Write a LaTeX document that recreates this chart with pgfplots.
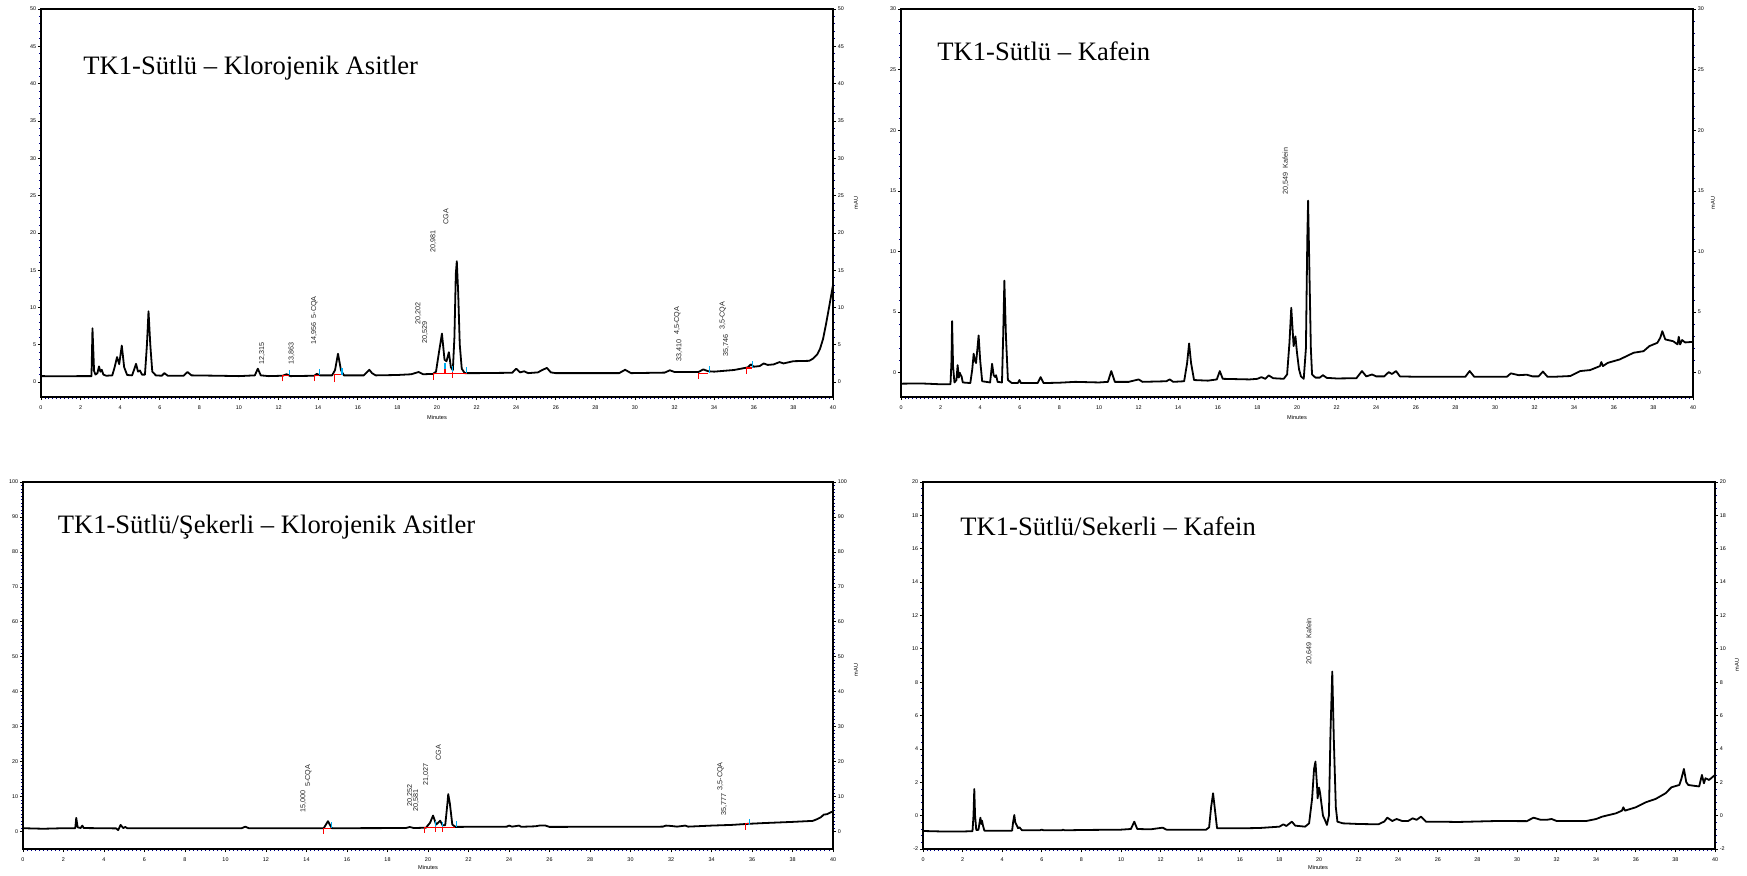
\documentclass[border=0pt]{standalone}
\usepackage{pgfplots}
\pgfplotsset{compat=1.18}
\usepackage{fontspec}
\setmainfont{Liberation Serif}
\newfontfamily\arial{Liberation Sans}
\newcommand\tickfont{\arial\fontsize{2.7}{3}\selectfont}
\newcommand\titlefont{\fontsize{13.3}{15}\selectfont}
\pgfplotsset{
 chrom/.style={scale only axis, anchor=south west, xmin=0, xmax=40, xtick={0,2,...,40},
   minor x tick num=9, tick align=outside, xtick pos=left, ytick pos=left,
   major tick length=1.6pt, minor tick length=1.1pt,
   tick style={black, line width=0.35pt}, minor tick style={blue!55!black, line width=0.45pt},
   ticklabel style={font=\tickfont, inner sep=0.6pt}, xticklabel style={yshift=-1.8pt},
   /pgf/number format/assume math mode=true,
   axis line style={line width=0.55pt}},
 rightax/.style={scale only axis, anchor=south west, xmin=0, xmax=40, hide x axis,
   axis y line*=right, tick align=outside, major tick length=1.6pt, minor tick length=1.1pt,
   tick style={black, line width=0.35pt}, minor tick style={blue!55!black, line width=0.45pt},
   ticklabel style={font=\tickfont, inner sep=0.6pt},
   /pgf/number format/assume math mode=true,
   axis line style={line width=0.55pt}},
 trace/.style={black, line width=0.9pt, line join=round}
}
\tikzset{pk/.style={rotate=90, anchor=west, inner sep=0pt, font=\arial\fontsize{3.6}{4}\selectfont, text=black!85},
 lab/.style={font=\arial\fontsize{2.8}{3}\selectfont, inner sep=0pt},
 red mark/.style={red, line width=0.6pt},
 cyan mark/.style={cyan, line width=0.6pt}}
\begin{document}
\begin{tikzpicture}
\useasboundingbox (0,0) rectangle (873.5pt,-437.5pt);
% ---------------- Panel 1 ----------------
\begin{axis}[chrom, at={(20.5pt,-198.5pt)}, width=396pt, height=194pt,
  ymin=-2, ymax=50, ytick={0,5,...,50}, minor y tick num=4]
\addplot[trace] coordinates {
(0,0.8) (1,0.78) (2,0.8) (2.55,0.8) (2.6,7.2) (2.68,1.5) (2.75,1.0) (2.85,1.2) (2.93,2.1) (3.0,1.4)
(3.07,1.65) (3.15,1.0) (3.3,0.85) (3.6,0.9) (3.72,2.0) (3.84,3.35) (3.95,2.4) (4.08,4.9) (4.2,2.0)
(4.35,0.95) (4.6,0.9) (4.72,1.8) (4.8,2.45) (4.9,1.4) (5.0,1.55) (5.1,1.0) (5.25,1.0) (5.35,5.0)
(5.43,9.5) (5.52,5.0) (5.62,1.4) (5.8,0.9) (6.1,0.85) (6.23,1.2) (6.4,0.85) (7.2,0.85) (7.4,1.35)
(7.6,0.9) (9,0.85) (10,0.8) (10.8,0.9) (10.95,1.8) (11.1,0.9) (11.5,0.8) (12.2,0.85) (12.4,1.05)
(12.6,0.8) (13.8,0.85) (13.93,1.1) (14.1,0.9) (14.7,0.9) (14.85,1.6) (15.0,3.8) (15.15,1.6)
(15.3,0.9) (16.3,0.9) (16.45,1.3) (16.58,1.65) (16.72,1.2) (16.9,0.9) (18,0.95) (18.7,1.05)
(19.07,1.35) (19.3,1.05) (19.8,1.1) (19.95,1.4) (20.1,4.0) (20.25,6.5) (20.38,3.0) (20.48,2.8)
(20.6,4.0) (20.7,2.0) (20.8,1.6) (20.88,6.0) (20.95,14.5) (21.0,16.2) (21.07,12.0) (21.15,5.0)
(21.25,1.8) (21.4,1.2) (22,1.2) (23.8,1.25) (24.0,1.8) (24.2,1.3) (24.4,1.45) (24.6,1.2) (25.1,1.3)
(25.3,1.6) (25.55,1.9) (25.75,1.3) (26,1.2) (29.2,1.2) (29.5,1.65) (29.8,1.2) (31.5,1.27)
(31.76,1.58) (32.0,1.35) (33.2,1.35) (33.45,1.7) (33.7,1.45) (34.0,1.4) (35.0,1.62) (35.7,1.97)
(35.85,2.37) (36.0,2.06) (36.3,2.15) (36.5,2.5) (36.7,2.3) (37.0,2.37) (37.3,2.68) (37.5,2.5)
(38.0,2.8) (38.8,2.85) (39.0,3.16) (39.2,3.7) (39.35,4.5) (39.5,5.8) (39.65,7.8) (39.8,10.0) (40.0,13.0)};
\addplot[red mark] coordinates {(12.2,0.1) (12.2,0.9) (12.55,0.9)};
\addplot[cyan mark] coordinates {(12.55,0.9) (12.55,1.65)};
\addplot[red mark] coordinates {(13.8,0.1) (13.8,0.9) (14.05,0.9)};
\addplot[cyan mark] coordinates {(14.05,0.9) (14.05,1.75)};
\addplot[red mark] coordinates {(14.83,0.0) (14.83,1.0) (15.2,1.0)};
\addplot[cyan mark] coordinates {(15.2,1.0) (15.2,1.85)};
\addplot[red mark] coordinates {(19.81,0.3) (19.81,1.2) (21.5,1.2)};
\addplot[red mark] coordinates {(20.4,1.2) (20.4,2.0)};
\addplot[red mark] coordinates {(20.77,1.3) (20.77,0.6)};
\addplot[cyan mark] coordinates {(20.4,1.8) (20.4,2.5)};
\addplot[cyan mark] coordinates {(20.77,1.4) (20.77,2.1)};
\addplot[cyan mark] coordinates {(21.5,1.2) (21.5,2.0)};
\addplot[red mark] coordinates {(33.2,0.45) (33.2,1.2) (33.7,1.2)};
\addplot[cyan mark] coordinates {(33.75,1.2) (33.75,2.2)};
\addplot[red mark] coordinates {(35.64,1.1) (35.64,1.9) (35.9,1.9)};
\addplot[cyan mark] coordinates {(35.95,1.9) (35.95,2.8)};
\node[pk] at (axis cs:11.16,2.3) {12,315};
\node[pk] at (axis cs:12.66,2.3) {13,863};
\node[pk] at (axis cs:13.8,5.0) {14,956\ \ 5-CQA};
\node[pk] at (axis cs:19.06,7.65) {20,202};
\node[pk] at (axis cs:19.4,5.06) {20,529};
\node[pk] at (axis cs:19.81,17.26) {20,981};
\node[pk] at (axis cs:20.45,21.05) {CGA};
\node[pk] at (axis cs:32.24,2.73) {33,410};
\node[pk] at (axis cs:32.14,6.31) {4,5-CQA};
\node[pk] at (axis cs:34.6,3.4) {35,746};
\node[pk] at (axis cs:34.43,6.98) {3,5-CQA};
\end{axis}
\begin{axis}[rightax, at={(20.5pt,-198.5pt)}, width=396pt, height=194pt,
  ymin=-2, ymax=50, ytick={0,5,...,50}, minor y tick num=4]
\addplot[draw=none] coordinates {(0,0)};
\end{axis}
% ---------------- Panel 2 ----------------
\begin{axis}[chrom, at={(450.5pt,-198.5pt)}, width=396pt, height=194pt,
  ymin=-2, ymax=30, ytick={0,5,...,30}, minor y tick num=4]
\addplot[trace] coordinates {
(0,-0.9) (1,-0.88) (2,-0.95) (2.5,-0.95) (2.55,1.0) (2.58,4.26) (2.63,0.5) (2.7,-0.8) (2.8,-0.6)
(2.86,0.63) (2.92,-0.4) (2.97,0.0) (3.0,-0.15) (3.06,-0.3) (3.12,-0.8) (3.5,-0.85) (3.6,0.3)
(3.67,1.57) (3.73,1.0) (3.79,0.8) (3.86,2.0) (3.92,3.08) (4.0,1.0) (4.1,-0.7) (4.5,-0.8) (4.6,0.74)
(4.68,-0.2) (4.75,-0.35) (4.8,-0.2) (4.88,-0.75) (5.1,-0.8) (5.16,3.0) (5.22,7.6) (5.3,3.0)
(5.4,-0.6) (5.6,-0.85) (5.9,-0.85) (5.98,-0.6) (6.06,-0.85) (6.9,-0.85) (7.05,-0.36) (7.2,-0.85)
(8,-0.82) (8.8,-0.75) (10,-0.8) (10.45,-0.75) (10.62,0.14) (10.8,-0.75) (11.5,-0.75) (12.0,-0.55)
(12.2,-0.75) (13.4,-0.7) (13.57,-0.55) (13.75,-0.75) (14.3,-0.7) (14.45,0.8) (14.55,2.42)
(14.65,0.8) (14.8,-0.6) (15.5,-0.65) (15.95,-0.55) (16.1,0.14) (16.25,-0.5) (17.6,-0.55) (18.0,-0.5)
(18.2,-0.36) (18.4,-0.5) (18.57,-0.22) (18.8,-0.45) (19.33,-0.5) (19.5,-0.14) (19.62,2.5)
(19.71,5.36) (19.78,3.5) (19.83,2.2) (19.92,3.0) (20.0,1.65) (20.1,0.3) (20.2,-0.3) (20.34,-0.5)
(20.45,2.0) (20.52,11.0) (20.56,14.2) (20.62,9.0) (20.7,2.0) (20.76,-0.14) (20.93,-0.4)
(21.15,-0.4) (21.31,-0.2) (21.5,-0.42) (22.0,-0.47) (23.0,-0.45) (23.28,0.14) (23.5,-0.3)
(23.79,-0.14) (24.0,-0.3) (24.4,-0.3) (24.63,0.05) (24.8,-0.1) (25.0,0.14) (25.2,-0.3) (26,-0.33)
(28.5,-0.33) (28.72,0.14) (28.95,-0.33) (30.6,-0.33) (30.8,-0.05) (31.2,-0.2) (31.6,-0.16)
(31.9,-0.3) (32.2,-0.3) (32.42,0.1) (32.65,-0.33) (33.0,-0.33) (33.8,-0.27) (34.3,0.14) (34.8,0.22)
(35.3,0.55) (35.37,0.88) (35.45,0.55) (35.7,0.82) (36.3,1.1) (37.0,1.65) (37.5,1.78) (37.8,2.2)
(38.2,2.47) (38.35,2.9) (38.45,3.43) (38.6,2.75) (39.0,2.6) (39.22,2.34) (39.28,2.97) (39.35,2.34)
(39.45,2.7) (39.6,2.5) (40,2.55)};
\node[pk] at (axis cs:19.43,14.7) {20,549\ \ Kafein};
\end{axis}
\begin{axis}[rightax, at={(450.5pt,-198.5pt)}, width=396pt, height=194pt,
  ymin=-2, ymax=30, ytick={0,5,...,30}, minor y tick num=4]
\addplot[draw=none] coordinates {(0,0)};
\end{axis}
% ---------------- Panel 3 ----------------
\begin{axis}[chrom, at={(11.5pt,-424.5pt)}, width=405pt, height=183.5pt,
  ymin=-5, ymax=100, ytick={0,10,...,100}, minor y tick num=9]
\addplot[trace] coordinates {
(0,0.95) (1,0.8) (2,0.95) (2.58,0.95) (2.63,3.9) (2.7,1.2) (2.85,1.0) (2.93,1.7) (3.0,1.0)
(4.6,0.9) (4.7,0.4) (4.82,1.9) (4.95,1.0) (5.05,1.3) (5.15,0.95) (10.8,0.95) (10.98,1.4)
(11.15,0.95) (14.85,0.95) (15.06,2.95) (15.25,0.95) (18.9,1.0) (19.1,1.3) (19.3,1.0) (19.9,1.1)
(20.1,2.5) (20.25,4.57) (20.4,2.0) (20.5,2.5) (20.6,3.1) (20.72,1.8) (20.85,1.8) (20.95,7.5)
(21.0,10.7) (21.08,8.0) (21.2,2.0) (21.35,1.33) (23.9,1.4) (24.0,1.7) (24.15,1.4) (24.5,1.7)
(24.6,1.35) (25.3,1.5) (25.5,1.7) (25.8,1.7) (26,1.33) (31.6,1.4) (31.75,1.7) (32,1.6) (32.3,1.4)
(32.7,1.7) (32.85,1.4) (34.0,1.7) (35.0,1.9) (35.8,2.2) (36.5,2.4) (38.0,2.76) (39.0,3.05)
(39.2,3.5) (39.4,4.1) (39.55,4.85) (39.7,4.95) (40,5.8)};
\addplot[red mark] coordinates {(14.82,-0.67) (14.82,0.95) (15.23,0.95)};
\addplot[cyan mark] coordinates {(15.23,0.95) (15.23,2.67)};
\addplot[red mark] coordinates {(19.83,-0.3) (19.83,1.24) (21.35,1.24)};
\addplot[red mark] coordinates {(20.36,1.4) (20.36,0.0)};
\addplot[red mark] coordinates {(20.73,1.4) (20.73,-0.2)};
\addplot[cyan mark] coordinates {(20.36,1.43) (20.36,3.05)};
\addplot[cyan mark] coordinates {(20.73,1.43) (20.73,2.86)};
\addplot[cyan mark] coordinates {(21.39,1.43) (21.39,3.14)};
\addplot[red mark] coordinates {(35.68,0.5) (35.68,2.2) (35.85,2.2)};
\addplot[cyan mark] coordinates {(35.87,1.9) (35.87,3.6)};
\node[pk] at (axis cs:13.84,5.2) {15,000};
\node[pk] at (axis cs:14.09,12.65) {5-CQA};
\node[pk] at (axis cs:19.11,6.93) {20,252};
\node[pk] at (axis cs:19.41,5.67) {20,581};
\node[pk] at (axis cs:19.9,13.0) {21,027};
\node[pk] at (axis cs:20.51,20.2) {CGA};
\node[pk] at (axis cs:34.62,4.44) {35,777};
\node[pk] at (axis cs:34.45,11.7) {3,5-CQA};
\end{axis}
\begin{axis}[rightax, at={(11.5pt,-424.5pt)}, width=405pt, height=183.5pt,
  ymin=-5, ymax=100, ytick={0,10,...,100}, minor y tick num=9]
\addplot[draw=none] coordinates {(0,0)};
\end{axis}
% ---------------- Panel 4 ----------------
\begin{axis}[chrom, at={(461.5pt,-424.5pt)}, width=396pt, height=183.5pt,
  ymin=-2, ymax=20, ytick={-2,0,...,20}, minor y tick num=4]
\addplot[trace] coordinates {
(0,-0.92) (1,-0.95) (2,-0.95) (2.5,-0.93) (2.55,0.0) (2.59,1.6) (2.63,0.0) (2.69,-0.86) (2.8,-0.85)
(2.86,-0.4) (2.9,-0.12) (2.94,-0.5) (2.98,-0.3) (3.03,-0.6) (3.1,-0.9) (4.5,-0.9) (4.55,-0.4)
(4.61,0.04) (4.66,-0.4) (4.7,-0.5) (4.8,-0.75) (4.87,-0.7) (5.0,-0.88) (5.9,-0.88) (6.0,-0.84)
(6.1,-0.88) (7.0,-0.88) (7.07,-0.84) (7.15,-0.88) (8,-0.86) (10,-0.84) (10.5,-0.8) (10.67,-0.36)
(10.82,-0.8) (11.5,-0.82) (12.1,-0.72) (12.3,-0.84) (14.3,-0.84) (14.45,-0.7) (14.55,0.5)
(14.65,1.34) (14.75,0.3) (14.85,-0.75) (16,-0.76) (17,-0.74) (18.0,-0.66) (18.2,-0.52)
(18.35,-0.62) (18.63,-0.36) (18.8,-0.6) (19.3,-0.66) (19.5,-0.46) (19.65,1.0) (19.75,2.8)
(19.82,3.24) (19.9,1.8) (19.93,1.04) (20.0,1.68) (20.05,1.4) (20.1,0.94) (20.2,0.0) (20.3,-0.26)
(20.4,-0.56) (20.5,0.0) (20.58,5.0) (20.67,8.64) (20.75,4.5) (20.85,0.5) (20.93,-0.36) (21.2,-0.46)
(22.0,-0.5) (23.0,-0.52) (23.3,-0.35) (23.45,-0.12) (23.7,-0.32) (23.92,-0.2) (24.2,-0.32)
(24.5,-0.32) (24.73,-0.16) (24.93,-0.25) (25.15,-0.06) (25.4,-0.36) (26,-0.36) (27,-0.38)
(29,-0.32) (30.5,-0.33) (30.83,-0.12) (31.2,-0.25) (31.5,-0.25) (31.75,-0.2) (32,-0.32) (33.5,-0.32)
(34,-0.2) (34.3,-0.06) (35,0.14) (35.3,0.3) (35.37,0.5) (35.45,0.3) (36,0.5) (36.5,0.8) (37,1.0)
(37.5,1.34) (37.8,1.7) (38.2,1.84) (38.3,2.2) (38.43,2.8) (38.55,2.0) (38.65,1.84) (39,1.78)
(39.2,1.75) (39.34,2.44) (39.44,1.94) (39.52,2.24) (39.7,2.14) (40,2.44)};
\node[pk] at (axis cs:19.51,9.04) {20,649\ \ Kafein};
\end{axis}
\begin{axis}[rightax, at={(461.5pt,-424.5pt)}, width=396pt, height=183.5pt,
  ymin=-2, ymax=20, ytick={-2,0,...,20}, minor y tick num=4]
\addplot[draw=none] coordinates {(0,0)};
\end{axis}
% ---------------- Titles and labels ----------------
\node[anchor=base west, inner sep=0pt, font=\titlefont] at (41.5pt,-37pt) {TK1-Sütlü – Klorojenik Asitler};
\node[anchor=base west, inner sep=0pt, font=\titlefont] at (468.5pt,-30pt) {TK1-Sütlü – Kafein};
\node[anchor=base west, inner sep=0pt, font=\titlefont] at (28.7pt,-266.7pt) {TK1-Sütlü/Şekerli – Klorojenik Asitler};
\node[anchor=base west, inner sep=0pt, font=\titlefont] at (480pt,-267.8pt) {TK1-Sütlü/Sekerli – Kafein};
\node[lab] at (218.5pt,-208.5pt) {Minutes};
\node[lab] at (648.5pt,-208.7pt) {Minutes};
\node[lab] at (214pt,-433.7pt) {Minutes};
\node[lab] at (659pt,-433.8pt) {Minutes};
\node[lab, rotate=90] at (428pt,-101.5pt) {mAU};
\node[lab, rotate=90] at (856.5pt,-101.5pt) {mAU};
\node[lab, rotate=90] at (428pt,-335pt) {mAU};
\node[lab, rotate=90] at (868.5pt,-332.5pt) {mAU};
\end{tikzpicture}
\end{document}
